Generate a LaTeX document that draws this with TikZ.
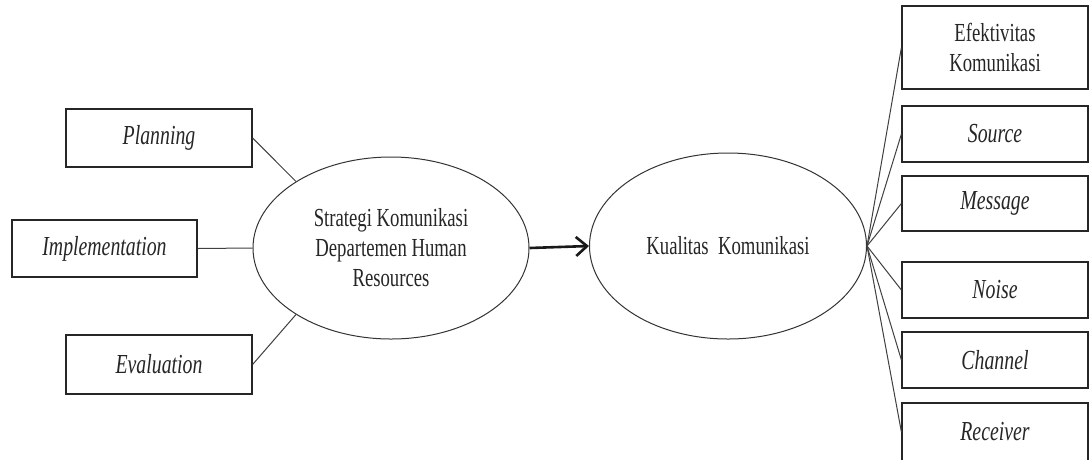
\documentclass[tikz,border=0pt]{standalone}
\usepackage{fontspec}
\setmainfont[FakeStretch=0.72]{Liberation Serif}
\usetikzlibrary{shapes.geometric,arrows.meta}
\begin{document}
\begin{tikzpicture}[x=1pt,y=-1pt,
  every node/.style={font=\fontsize{26}{30}\selectfont, text=black!85},
  it/.style={font=\fontsize{27.5}{30}\selectfont\itshape},
  fbox/.style={draw=black!85, line width=1.2pt, rectangle, inner sep=0pt,
               minimum width=186pt, align=center},
  construct/.style={draw=black!80, line width=1pt, ellipse, inner sep=0pt,
               align=center},
  link/.style={draw=black!75, line width=1pt},
  mainarrow/.style={draw=black!90, line width=2.6pt,
               -{Straight Barb[length=11pt,width=19pt,line width=2.6pt]}}
]
\useasboundingbox (0,0) rectangle (1091,459);
\fill[white] (0,0) rectangle (1091,459);

% dimensions of the strategy construct
\node[fbox, it, minimum height=58pt] (plan) at (159,138) {Planning};
\node[fbox, it, minimum height=57pt, minimum width=185pt] (impl) at (104.5,248.5) {Implementation};
\node[fbox, it, minimum height=59pt] (eval) at (159,364.5) {Evaluation};

% the two constructs
\node[construct, minimum width=276pt, minimum height=182pt] (strat) at (391,248)
  {Strategi Komunikasi\\Departemen Human\\Resources};
\node[construct, minimum width=277pt, minimum height=186pt] (qual) at (728,246)
  {Kualitas\ \ Komunikasi};

% dimensions of communication quality
\node[fbox, minimum height=83pt] (efek) at (995,47.5) {Efektivitas\\Komunikasi};
\node[fbox, it, minimum height=56pt] (src) at (995,134) {Source};
\node[fbox, it, minimum height=55pt] (msg) at (995,203.5) {Message};
\node[fbox, it, minimum height=56pt] (noise) at (995,290) {Noise};
\node[fbox, it, minimum height=56pt] (chan) at (995,360) {Channel};
\node[fbox, it, minimum height=58pt] (recv) at (995,432) {Receiver};

% connectors
\draw[link] (plan.east) -- (strat.145);
\draw[link] (impl.east) -- (strat.west);
\draw[link] (eval.east) -- (strat.215);

\draw[mainarrow] (strat.east) -- (qual.west);

\foreach \b in {efek,src,msg,noise,chan,recv}
  \draw[link] (qual.east) -- (\b.west);
\end{tikzpicture}
\end{document}
